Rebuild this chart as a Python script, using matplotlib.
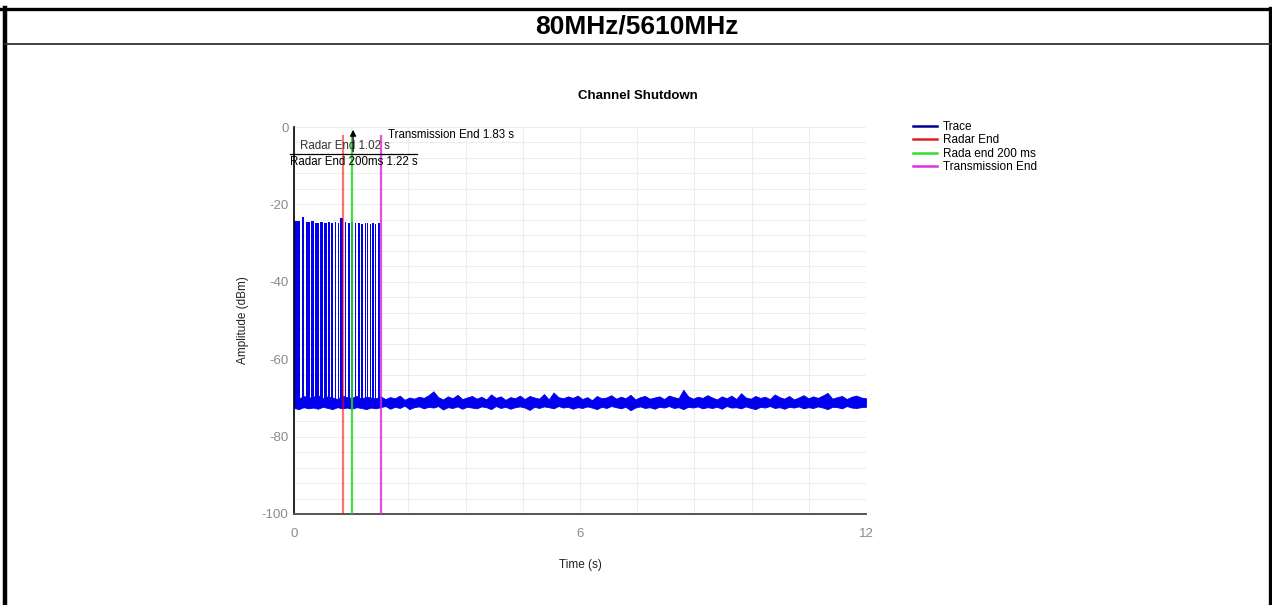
import numpy as np
import matplotlib
matplotlib.use('Agg')
import matplotlib.pyplot as plt
from matplotlib.ticker import MultipleLocator
from matplotlib.lines import Line2D

plt.rcParams['font.family'] = ['Liberation Sans', 'DejaVu Sans']
plt.rcParams['axes.unicode_minus'] = False

header = '80MHz/5610MHz'
title = 'Channel Shutdown'

# marker times (s)
radar_end = 1.02
radar_end_200 = 1.22
tx_end = 1.83

# radar bursts: on / off times (s) and top level (dBm)
pulse_on = [0.00, 0.16, 0.25, 0.36, 0.44, 0.55, 0.63, 0.72, 0.785, 0.855, 0.925, 0.975,
            1.06, 1.135, 1.205, 1.285, 1.345, 1.415, 1.485, 1.535, 1.595, 1.645, 1.705, 1.765]
pulse_off = [0.13, 0.22, 0.33, 0.41, 0.52, 0.60, 0.69, 0.75, 0.82, 0.89, 0.945, 1.03,
             1.10, 1.165, 1.245, 1.31, 1.375, 1.445, 1.51, 1.56, 1.62, 1.675, 1.73, 1.81]
pulse_top = [-24.3, -23.2, -24.6, -24.4, -24.8, -24.5, -24.7, -24.6, -24.9, -24.5, -24.7, -23.4,
             -24.6, -24.8, -24.5, -24.9, -24.7, -25.0, -24.8, -24.9, -25.1, -24.8, -25.0, -24.9]

# noise floor envelope, 0 .. 12 s
noise_top = [-69.8, -70.2, -69.5, -70.0, -69.7, -69.3, -70.1, -69.6, -69.9, -70.3,
             -69.4, -69.8, -70.0, -69.5, -70.2, -69.7, -69.9, -70.1,
             -69.6, -70.3, -69.8, -70.1, -69.4, -70.5, -69.9, -70.2, -69.7, -70.0,
             -69.3, -68.3, -69.8, -70.4, -69.6, -70.1, -69.2, -70.3, -69.9, -69.5,
             -70.2, -69.7, -70.4, -69.1, -70.0, -69.6, -70.5, -69.8, -70.1, -69.4,
             -70.3, -69.5, -69.9, -70.2, -69.0, -70.4, -68.6, -69.8, -70.1, -69.6,
             -70.0, -69.4, -70.3, -69.8, -70.6, -69.5, -70.1, -69.9, -69.3, -70.2,
             -69.7, -70.1, -69.2, -70.4, -69.8, -69.5, -70.2, -69.9, -69.6, -70.3,
             -69.4, -69.8, -70.1, -67.9, -69.6, -70.2, -69.7, -70.0, -69.3, -69.9,
             -70.4, -69.6, -70.1, -69.4, -70.3, -68.8, -69.9, -70.2, -69.5, -70.0,
             -69.7, -70.3, -69.1, -69.8, -70.2, -69.5, -70.4, -69.9, -69.3, -70.1,
             -69.6, -70.0, -69.4, -68.7, -70.2, -69.8, -69.5, -70.3, -69.7, -69.4,
             -69.9, -70.1]
noise_bot = [-72.6, -72.9, -72.4, -72.7, -72.5, -72.8, -72.3, -72.6, -72.9, -72.4,
             -72.7, -72.5, -72.8, -72.4, -72.6, -72.9, -72.5, -72.7,
             -72.4, -72.1, -72.8, -72.3, -72.6, -72.0, -72.9, -72.4, -72.2, -72.7,
             -72.3, -72.5, -72.1, -73.0, -72.4, -72.6, -72.2, -72.8, -72.3, -72.5,
             -72.7, -72.2, -72.4, -72.9, -72.1, -72.6, -72.3, -72.8, -72.4, -72.2,
             -72.5, -73.1, -72.3, -72.6, -72.2, -72.4, -72.7, -72.1, -72.5, -72.3,
             -72.8, -72.4, -72.6, -72.2, -72.5, -72.9, -72.3, -72.6, -72.1, -72.4,
             -72.7, -72.3, -73.2, -72.5, -72.2, -72.6, -72.4, -72.8, -72.3, -72.5,
             -72.1, -72.6, -72.4, -72.9, -72.3, -72.5, -72.2, -72.7, -72.4, -72.6,
             -72.3, -72.8, -72.1, -72.5, -72.4, -72.7, -72.2, -72.6, -72.9, -72.3,
             -72.5, -72.1, -72.6, -72.4, -72.8, -72.3, -72.5, -72.2, -72.7, -72.4,
             -72.6, -72.2, -72.5, -72.9, -72.3, -72.4, -72.7, -72.1, -72.5, -72.6,
             -72.4, -72.3]
noise_t = np.linspace(0, 12, len(noise_top))

legend_labels = ['Trace', 'Radar End', 'Rada end 200 ms', 'Transmission End']

fig = plt.figure(figsize=(12.72, 6.05), dpi=100)

# page frame
W, H = 1272.0, 605.0
fig.add_artist(Line2D([0, 1], [1 - 9 / H, 1 - 9 / H], color='black', lw=2.4))
fig.add_artist(Line2D([5 / W, 5 / W], [0, 1 - 8 / H], color='black', lw=3.2))
fig.add_artist(Line2D([1270 / W, 1270 / W], [0, 1 - 8 / H], color='black', lw=2.4))
fig.add_artist(Line2D([5 / W, 1270 / W], [1 - 44 / H, 1 - 44 / H], color='#333333', lw=1.3))
fig.text(637 / W, 1 - 27 / H, header, ha='center', va='center', fontsize=19, fontweight='bold')
fig.text(638 / W, 1 - 96 / H, title, ha='center', va='center', fontsize=9.5, fontweight='bold')

ax = fig.add_axes([294 / W, 1 - 514 / H, 572 / W, 387 / H])

trace_col = '#0000ee'
ax.fill_between(noise_t, noise_bot, noise_top, color=trace_col, lw=0.6, zorder=2)
for t0, t1, top in zip(pulse_on, pulse_off, pulse_top):
    ax.fill_between([t0, t1], [-71, -71], [top, top], color=trace_col, lw=0, zorder=2)

ax.vlines(radar_end, -100, -2, color='#ff0000', alpha=0.55, lw=1.6, zorder=3)
ax.vlines(radar_end_200, -100, -2, color='#22dd22', alpha=0.85, lw=1.6, zorder=3)
ax.vlines(tx_end, -100, -2, color='#dd22dd', alpha=0.8, lw=1.6, zorder=3)

# annotations
ax.text(tx_end + 0.14, -2.0, 'Transmission End %.2f s' % tx_end, fontsize=8.3, va='center', zorder=5)
ax.text(0.13, -4.8, 'Radar End %.2f s' % radar_end, fontsize=8.3, va='center', color='#333333', zorder=5)
ax.plot([-0.08, 2.58], [-7.1, -7.1], color='black', lw=0.9, clip_on=False, zorder=5)
ax.text(-0.08, -9.0, 'Radar End 200ms %.2f s' % radar_end_200, fontsize=8.3, va='center', zorder=5)
ax.annotate('', xy=(radar_end_200 + 0.02, 0), xytext=(radar_end_200 + 0.02, -7.1),
            arrowprops=dict(arrowstyle='-|>', color='black', lw=0.9, mutation_scale=9),
            annotation_clip=False, zorder=6)

ax.set_xlim(0, 12)
ax.set_ylim(-100, 0)
ax.set_xticks([0, 6, 12])
ax.set_yticks([0, -20, -40, -60, -80, -100])
ax.xaxis.set_minor_locator(MultipleLocator(1.2))
ax.yaxis.set_minor_locator(MultipleLocator(4))
ax.grid(True, which='both', color='#ededed', lw=0.8, zorder=0)
ax.set_axisbelow(True)
ax.tick_params(which='both', length=0, labelsize=9.5, labelcolor='#8a8a8a')
ax.tick_params(axis='x', pad=10)
ax.tick_params(axis='y', pad=4)
for s in ['top', 'right']:
    ax.spines[s].set_visible(False)
ax.spines['left'].set_color('black')
ax.spines['left'].set_linewidth(1.2)
ax.spines['bottom'].set_color('#555555')
ax.spines['bottom'].set_linewidth(1.4)
ax.set_xlabel('Time (s)', fontsize=8.5, color='#222222', labelpad=14)
ax.set_ylabel('Amplitude (dBm)', fontsize=8.5, color='#222222', labelpad=9)

handles = [Line2D([], [], color=c, lw=1.8) for c in ['#000099', '#e02020', '#33dd33', '#dd33dd']]
fig.legend(handles, legend_labels, loc='upper left', bbox_to_anchor=(913 / W, 1 - 121 / H),
           frameon=False, fontsize=8.5, handlelength=2.0, handletextpad=0.5,
           labelspacing=0.12, borderpad=0, borderaxespad=0)

fig.savefig('out.png', dpi=100)
